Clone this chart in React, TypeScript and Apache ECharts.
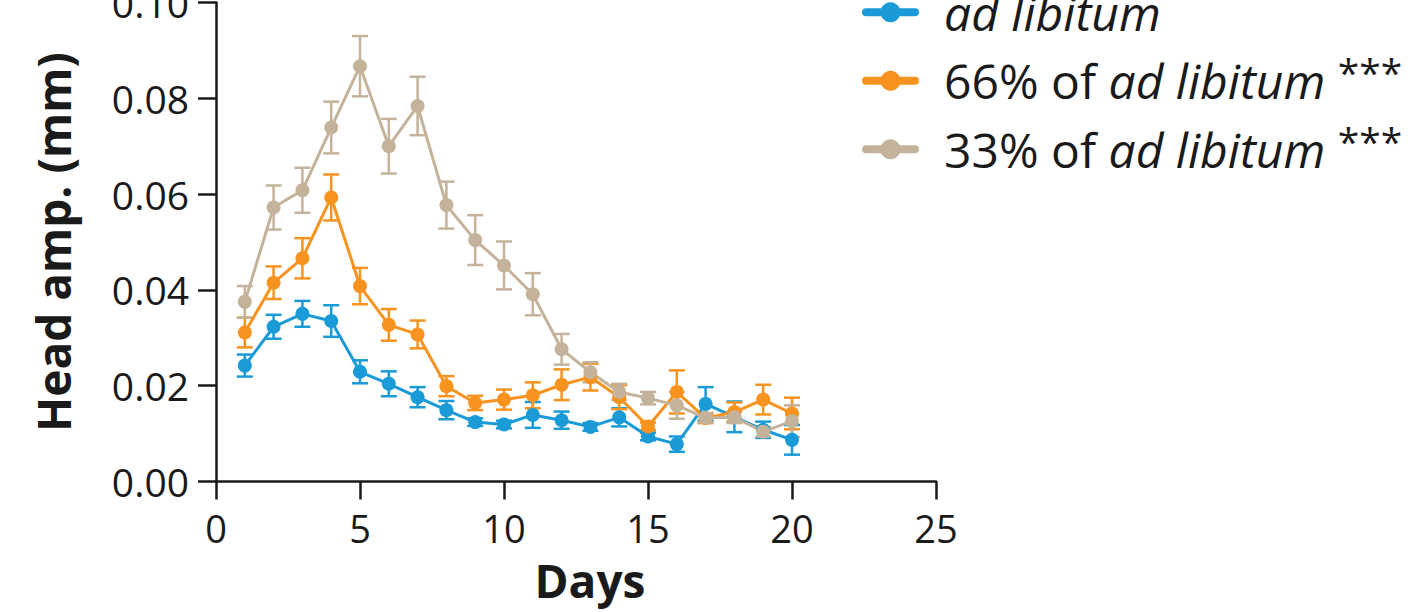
import React, { useEffect, useRef } from "react";
import * as echarts from "echarts";

// ---- Data ----
const days = [1, 2, 3, 4, 5, 6, 7, 8, 9, 10, 11, 12, 13, 14, 15, 16, 17, 18, 19, 20];

const adLibitum = [0.0242, 0.0323, 0.035, 0.0335, 0.0229, 0.0204, 0.0176, 0.0149, 0.0124, 0.0119, 0.0139, 0.0128, 0.0114, 0.0134, 0.0094, 0.0078, 0.0162, 0.0135, 0.0108, 0.0087];
const adLibitumSem = [0.0023, 0.0025, 0.0027, 0.0033, 0.0024, 0.0026, 0.0021, 0.0019, 0.0008, 0.0008, 0.0027, 0.0018, 0.0008, 0.0019, 0.0008, 0.0016, 0.0035, 0.0032, 0.0017, 0.0031];

const pct66 = [0.0311, 0.0415, 0.0466, 0.0593, 0.0408, 0.0327, 0.0307, 0.0199, 0.0164, 0.0171, 0.018, 0.0202, 0.0218, 0.0176, 0.0115, 0.0187, 0.0132, 0.0145, 0.0171, 0.0142];
const pct66Sem = [0.0031, 0.0034, 0.0042, 0.0048, 0.0038, 0.0033, 0.0029, 0.0021, 0.0015, 0.0021, 0.0027, 0.0032, 0.0028, 0.0025, 0.0008, 0.0045, 0.001, 0.002, 0.0031, 0.0033];

const pct33 = [0.0375, 0.0572, 0.0608, 0.0739, 0.0867, 0.07, 0.0784, 0.0577, 0.0504, 0.0451, 0.0391, 0.0276, 0.0228, 0.0187, 0.0174, 0.0159, 0.0133, 0.0134, 0.0104, 0.0126];
const pct33Sem = [0.0033, 0.0046, 0.0047, 0.0054, 0.0063, 0.0057, 0.0061, 0.0049, 0.0052, 0.005, 0.0044, 0.0032, 0.0021, 0.0017, 0.0013, 0.0028, 0.001, 0.0012, 0.001, 0.0033];

const seriesNames = ["ad libitum", "66% of ad libitum", "33% of ad libitum"];
const legendLabels: Record<string, string> = {
  "ad libitum": "{i|ad libitum}",
  "66% of ad libitum": "{n|66% of }{i|ad libitum}{n| }{s|***}",
  "33% of ad libitum": "{n|33% of }{i|ad libitum}{n| }{s|***}",
};

const X_MIN = 0;
const X_MAX = 25;
const X_STEP = 5;
const Y_MIN = 0;
const Y_MAX = 0.1;
const Y_STEP = 0.02;

// ---- Styles ----
const COLORS = ["#1a9ad7", "#f7931e", "#c4b39a"];
const INK = "#1a1a1a";
const FONT = '"Open Sans", "Noto Sans", "DejaVu Sans", sans-serif';

function errorSeries(name: string, means: number[], sems: number[], color: string) {
  return {
    type: "custom",
    name: name + " SEM",
    silent: true,
    data: days.map((d, i) => [d, means[i], sems[i]]),
    encode: { x: 0, y: 1 },
    renderItem: (_params: any, api: any) => {
      const x = api.value(0);
      const y = api.value(1);
      const e = api.value(2);
      const top = api.coord([x, y + e]);
      const bot = api.coord([x, y - e]);
      const hw = 8;
      const style = { stroke: color, lineWidth: 2.5, fill: "none" };
      return {
        type: "group",
        children: [
          { type: "line", shape: { x1: top[0], y1: top[1], x2: bot[0], y2: bot[1] }, style },
          { type: "line", shape: { x1: top[0] - hw, y1: top[1], x2: top[0] + hw, y2: top[1] }, style },
          { type: "line", shape: { x1: bot[0] - hw, y1: bot[1], x2: bot[0] + hw, y2: bot[1] }, style },
        ],
      };
    },
  };
}

function lineSeries(name: string, means: number[], color: string) {
  return {
    type: "line",
    name,
    data: days.map((d, i) => [d, means[i]]),
    symbol: "circle",
    symbolSize: 14,
    lineStyle: { width: 3, color },
    itemStyle: { color },
  };
}

export default function App() {
  const ref = useRef<HTMLDivElement>(null);

  useEffect(() => {
    if (!ref.current) return;
    const chart = echarts.init(ref.current, undefined, { renderer: "svg" });
    const groups = [
      { name: seriesNames[0], m: adLibitum, s: adLibitumSem, c: COLORS[0] },
      { name: seriesNames[1], m: pct66, s: pct66Sem, c: COLORS[1] },
      { name: seriesNames[2], m: pct33, s: pct33Sem, c: COLORS[2] },
    ];
    const series: any[] = [];
    groups.forEach((g) => {
      series.push(errorSeries(g.name, g.m, g.s, g.c));
      series.push(lineSeries(g.name, g.m, g.c));
    });

    chart.setOption({
      animation: false,
      backgroundColor: "#ffffff",
      grid: {
        left: 216,
        right: 491,
        top: 2.5,
        bottom: 130.5,
        containLabel: false,
        outerBoundsMode: "none",
      },
      legend: {
        data: seriesNames,
        orient: "vertical",
        left: 862,
        top: -11.7,
        padding: 0,
        itemWidth: 49,
        itemHeight: 25,
        itemGap: 16,
        selectedMode: false,
        lineStyle: { width: 8, cap: "round" },
        formatter: (name: string) => legendLabels[name] || name,
        textStyle: {
          color: INK,
          fontFamily: FONT,
          fontSize: 48,
          padding: [0, 0, 0, 24],
          rich: {
            n: { color: INK, fontFamily: FONT, fontSize: 48, lineHeight: 56 },
            i: { color: INK, fontFamily: FONT, fontSize: 48, fontStyle: "italic", lineHeight: 56 },
            s: { color: INK, fontFamily: FONT, fontSize: 39, padding: [0, 0, 18, 0] },
          },
        },
      },
      xAxis: {
        type: "value",
        min: X_MIN,
        max: X_MAX,
        interval: X_STEP,
        name: "Days",
        nameLocation: "middle",
        nameGap: 75,
        nameTextStyle: {
          color: INK,
          fontFamily: FONT,
          fontSize: 46,
          fontWeight: "bold",
          padding: [0, 0, 0, 28],
        },
        axisLine: { onZero: false, lineStyle: { color: INK, width: 2.5 } },
        axisTick: { show: true, length: 18, lineStyle: { color: INK, width: 2.5 } },
        axisLabel: { color: INK, fontFamily: FONT, fontSize: 38, margin: 27 },
        splitLine: { show: false },
      },
      yAxis: {
        type: "value",
        min: Y_MIN,
        max: Y_MAX,
        interval: Y_STEP,
        name: "Head amp. (mm)",
        nameLocation: "middle",
        nameGap: 140,
        nameTextStyle: {
          color: INK,
          fontFamily: FONT,
          fontSize: 46,
          fontWeight: "bold",
        },
        axisLine: { show: true, lineStyle: { color: INK, width: 2.5 } },
        axisTick: { show: true, length: 18, lineStyle: { color: INK, width: 2.5 } },
        axisLabel: {
          color: INK,
          fontFamily: FONT,
          fontSize: 39,
          margin: 27,
          formatter: (v: number) => v.toFixed(2),
        },
        splitLine: { show: false },
      },
      series,
    });
    return () => chart.dispose();
  }, []);

  return (
    <div
      ref={ref}
      style={{ position: "fixed", left: 0, top: 0, width: 1427, height: 612, background: "#fff" }}
    />
  );
}
